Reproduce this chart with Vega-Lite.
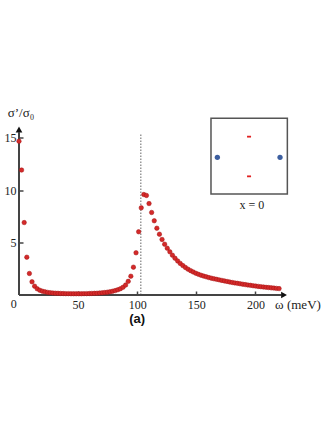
{
  "$schema": "https://vega.github.io/schema/vega-lite/v6.json",
  "autosize": "none",
  "width": 268,
  "height": 178.5,
  "padding": {"left": 19, "top": 116.5, "right": 45, "bottom": 135},
  "background": "white",
  "config": {"view": {"stroke": null}},
  "encoding": {
    "x": {"field": "w", "type": "quantitative", "scale": {"domain": [0, 226.7], "nice": false, "zero": false},
      "axis": {"domain": false, "grid": false, "values": [50, 100, 150, 200], "tickSize": -4, "tickColor": "#444", "tickWidth": 1.5,
        "labelFont": "Liberation Serif, Times New Roman, serif", "labelFontSize": 12, "labelColor": "#222", "labelPadding": 8, "title": null}},
    "y": {"field": "s", "type": "quantitative", "scale": {"domain": [0, 17], "nice": false, "zero": false},
      "axis": {"domain": false, "grid": false, "values": [5, 10, 15], "tickSize": -4, "tickColor": "#444", "tickWidth": 1.5,
        "labelFont": "Liberation Serif, Times New Roman, serif", "labelFontSize": 12, "labelColor": "#222", "labelPadding": 7, "title": null}}
  },
  "layer": [
    {
      "data": {"values": [{"w": 162.4, "w2": 227, "s": 9.62, "s2": 16.83}]},
      "mark": {"type": "rect", "fill": "white", "stroke": "#555", "strokeWidth": 1.5},
      "encoding": {"x2": {"field": "w2"}, "y2": {"field": "s2"}}
    },
    {
      "data": {"values": [{"w": 167.8, "s": 13.11}, {"w": 220.8, "s": 13.11}]},
      "mark": {"type": "point", "shape": "circle", "filled": true, "color": "#3d5fa0", "size": 28, "opacity": 1}
    },
    {
      "data": {"values": [{"w": 194.6, "s": 15.08}, {"w": 194.6, "s": 11.3}]},
      "mark": {"type": "point", "shape": "stroke", "filled": false, "color": "#e02020", "size": 16, "strokeWidth": 1.8, "opacity": 1}
    },
    {
      "data": {"values": [{"w": 196.9, "s": 8.19, "t": "x = 0"}]},
      "mark": {"type": "text", "font": "Liberation Serif, Times New Roman, serif", "fontSize": 12, "color": "#222", "align": "center", "baseline": "alphabetic"},
      "encoding": {"text": {"field": "t"}}
    },
    {
      "data": {"values": [{"w": 103, "s": 0, "s2": 15.33}]},
      "mark": {"type": "rule", "color": "#999", "strokeWidth": 1.5, "strokeDash": [1.5, 1.5]},
      "encoding": {"y2": {"field": "s2"}}
    },
    {
      "data": {"values": [{"w": 0, "w2": 222, "s": 0}]},
      "mark": {"type": "rule", "color": "#444", "strokeWidth": 2},
      "encoding": {"x2": {"field": "w2"}}
    },
    {
      "data": {"values": [{"w": 0, "s": 0, "s2": 15.5}]},
      "mark": {"type": "rule", "color": "#444", "strokeWidth": 2},
      "encoding": {"y2": {"field": "s2"}}
    },
    {
      "data": {"values": [{"w": 224.2, "s": 0}]},
      "mark": {"type": "point", "shape": "triangle-right", "filled": true, "color": "#111", "size": 45, "opacity": 1}
    },
    {
      "data": {"values": [{"w": 0, "s": 15.76}]},
      "mark": {"type": "point", "shape": "triangle-up", "filled": true, "color": "#111", "size": 45, "opacity": 1}
    },
    {
      "data": {"values": [
        {"w": 0, "s": 14.65}, {"w": 2.2, "s": 11.9}, {"w": 4.4, "s": 6.9}, {"w": 6.6, "s": 3.6}, {"w": 8.8, "s": 2.05},
        {"w": 11, "s": 1.26}, {"w": 13.2, "s": 0.84}, {"w": 15.4, "s": 0.59}, {"w": 17.6, "s": 0.45}, {"w": 19.8, "s": 0.36},
        {"w": 22, "s": 0.3}, {"w": 24.2, "s": 0.25}, {"w": 26.4, "s": 0.22}, {"w": 28.6, "s": 0.19}, {"w": 30.8, "s": 0.17},
        {"w": 33, "s": 0.16}, {"w": 35.2, "s": 0.15}, {"w": 37.4, "s": 0.14}, {"w": 39.6, "s": 0.13}, {"w": 41.8, "s": 0.13},
        {"w": 44, "s": 0.12}, {"w": 46.2, "s": 0.12}, {"w": 48.4, "s": 0.12}, {"w": 50.6, "s": 0.12}, {"w": 52.8, "s": 0.12},
        {"w": 55, "s": 0.13}, {"w": 57.2, "s": 0.13}, {"w": 59.4, "s": 0.14}, {"w": 61.6, "s": 0.15}, {"w": 63.8, "s": 0.16},
        {"w": 66, "s": 0.17}, {"w": 68.2, "s": 0.19}, {"w": 70.4, "s": 0.21}, {"w": 72.6, "s": 0.24}, {"w": 74.8, "s": 0.27},
        {"w": 77, "s": 0.31}, {"w": 79.2, "s": 0.36}, {"w": 81.4, "s": 0.42}, {"w": 83.6, "s": 0.5}, {"w": 85.8, "s": 0.6},
        {"w": 88, "s": 0.74}, {"w": 90.2, "s": 0.95}, {"w": 92.4, "s": 1.3}, {"w": 94.6, "s": 1.79}, {"w": 96.8, "s": 2.65},
        {"w": 99, "s": 4.02}, {"w": 101.2, "s": 6.02}, {"w": 103.4, "s": 8.3}, {"w": 105.6, "s": 9.57}, {"w": 107.8, "s": 9.48},
        {"w": 110, "s": 8.71}, {"w": 112.2, "s": 7.86}, {"w": 114.4, "s": 7.07}, {"w": 116.6, "s": 6.36}, {"w": 118.8, "s": 5.79},
        {"w": 121, "s": 5.29}, {"w": 123.2, "s": 4.84}, {"w": 125.4, "s": 4.46}, {"w": 127.6, "s": 4.11}, {"w": 129.8, "s": 3.79},
        {"w": 132, "s": 3.5}, {"w": 134.2, "s": 3.24}, {"w": 136.4, "s": 3.01}, {"w": 138.6, "s": 2.8}, {"w": 140.8, "s": 2.62},
        {"w": 143, "s": 2.46}, {"w": 145.2, "s": 2.32}, {"w": 147.4, "s": 2.19}, {"w": 149.6, "s": 2.07}, {"w": 151.8, "s": 1.97},
        {"w": 154, "s": 1.88}, {"w": 156.2, "s": 1.8}, {"w": 158.4, "s": 1.73}, {"w": 160.6, "s": 1.66}, {"w": 162.8, "s": 1.6},
        {"w": 165, "s": 1.54}, {"w": 167.2, "s": 1.49}, {"w": 169.4, "s": 1.44}, {"w": 171.6, "s": 1.39}, {"w": 173.8, "s": 1.34},
        {"w": 176, "s": 1.29}, {"w": 178.2, "s": 1.24}, {"w": 180.4, "s": 1.19}, {"w": 182.6, "s": 1.15}, {"w": 184.8, "s": 1.11},
        {"w": 187, "s": 1.07}, {"w": 189.2, "s": 1.03}, {"w": 191.4, "s": 0.99}, {"w": 193.6, "s": 0.95}, {"w": 195.8, "s": 0.92},
        {"w": 198, "s": 0.88}, {"w": 200.2, "s": 0.85}, {"w": 202.4, "s": 0.82}, {"w": 204.6, "s": 0.79}, {"w": 206.8, "s": 0.76},
        {"w": 209, "s": 0.73}, {"w": 211.2, "s": 0.71}, {"w": 213.4, "s": 0.68}, {"w": 215.6, "s": 0.66}, {"w": 217.8, "s": 0.63},
        {"w": 220, "s": 0.61}
      ]},
      "mark": {"type": "point", "shape": "circle", "filled": true, "color": "#d42a2a", "stroke": "#a31515", "strokeWidth": 0.5, "size": 20, "opacity": 1}
    },
    {
      "data": {"values": [
        {"w": -4.4, "s": -1.27, "t": "0"}
      ]},
      "mark": {"type": "text", "align": "center", "baseline": "alphabetic", "color": "#222", "font": "Liberation Serif, Times New Roman, serif", "fontSize": 12},
      "encoding": {"text": {"field": "t"}}
    },
    {
      "data": {"values": [
        {"w": 236, "s": -1.33, "t": "ω (meV)"}
      ]},
      "mark": {"type": "text", "align": "center", "baseline": "alphabetic", "color": "#222", "font": "Liberation Serif, Times New Roman, serif", "fontSize": 13},
      "encoding": {"text": {"field": "t"}}
    },
    {
      "data": {"values": [
        {"w": 1.7, "s": 16.95, "t": "σ’/σ₀"}
      ]},
      "mark": {"type": "text", "align": "center", "baseline": "alphabetic", "color": "#222", "font": "Liberation Serif, Times New Roman, serif", "fontSize": 13},
      "encoding": {"text": {"field": "t"}}
    },
    {
      "data": {"values": [
        {"w": 100, "s": -2.7, "t": "(a)"}
      ]},
      "mark": {"type": "text", "align": "center", "baseline": "alphabetic", "color": "#111", "font": "Liberation Sans, Arial, sans-serif", "fontSize": 13, "fontWeight": "bold"},
      "encoding": {"text": {"field": "t"}}
    }
  ]
}
